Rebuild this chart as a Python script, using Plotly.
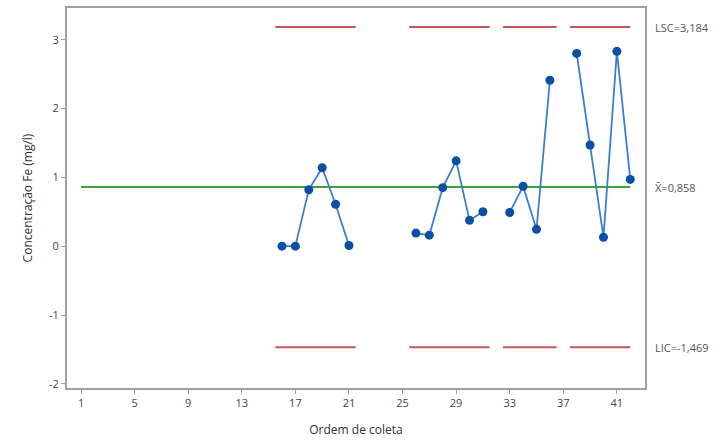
import plotly.graph_objects as go

# Collection order 1..42; None where no sample was taken
ordem = list(range(1, 43))
fe = [None] * 15 + [0.00, 0.00, 0.82, 1.14, 0.61, 0.01] + [None] * 4 + \
     [0.19, 0.16, 0.85, 1.24, 0.375, 0.50] + [None] + \
     [0.49, 0.87, 0.245, 2.41] + [None] + \
     [2.80, 1.47, 0.13, 2.83, 0.97]

lsc = 3.184
media = 0.858
lic = -1.469

# Limit segments cover each run of consecutive samples
seg_ini = [15.5, 25.5, 32.5, 37.5]
seg_fim = [21.5, 31.5, 36.5, 42.0]

x_ticks = [1, 5, 9, 13, 17, 21, 25, 29, 33, 37, 41]
y_ticks = [-2, -1, 0, 1, 2, 3]

fig = go.Figure()

red = "#c45656"
for a, b in zip(seg_ini, seg_fim):
    for lim in (lsc, lic):
        fig.add_trace(go.Scatter(x=[a, b], y=[lim, lim], mode="lines",
                                 line=dict(color=red, width=2),
                                 hoverinfo="skip", showlegend=False))

fig.add_trace(go.Scatter(x=[1, 42], y=[media, media], mode="lines",
                         line=dict(color="#3aa43a", width=2),
                         hoverinfo="skip", showlegend=False))

fig.add_trace(go.Scatter(x=ordem, y=fe, mode="lines+markers",
                         connectgaps=False,
                         line=dict(color="#3a7fd0", width=1.8),
                         marker=dict(color="#0b4fa6", size=9),
                         showlegend=False))

lab_font = dict(family="Open Sans", size=11, color="#555555")
for txt, val in (("LSC=3,184", lsc), ("X\u0304=0,858", media), ("LIC=-1,469", lic)):
    fig.add_annotation(x=1.0, xref="paper", xanchor="left", xshift=8,
                       y=val, yref="y", yanchor="middle",
                       text=txt, showarrow=False, font=lab_font)

axis_common = dict(showline=True, linecolor="#a0a0a0", linewidth=2, mirror=True,
                   ticks="outside", ticklen=4, tickcolor="#a0a0a0", tickwidth=1,
                   showgrid=False, zeroline=False,
                   tickfont=dict(family="Open Sans", size=11, color="#444444"))

fig.update_xaxes(range=[-0.05, 43.1], tickvals=x_ticks,
                 ticktext=[str(v) for v in x_ticks],
                 title=dict(text="Ordem de coleta", standoff=16,
                            font=dict(family="Open Sans", size=12, color="#333333")),
                 **axis_common)
fig.update_yaxes(range=[-2.06, 3.46], tickvals=y_ticks,
                 ticktext=[str(v) for v in y_ticks],
                 title=dict(text="Concentração Fe (mg/l)", standoff=14,
                            font=dict(family="Open Sans", size=12, color="#333333")),
                 **axis_common)

fig.update_layout(width=724, height=446, autosize=False,
                  margin=dict(l=67, r=79, t=6, b=58),
                  plot_bgcolor="white", paper_bgcolor="white")

fig.write_html("out.html")
